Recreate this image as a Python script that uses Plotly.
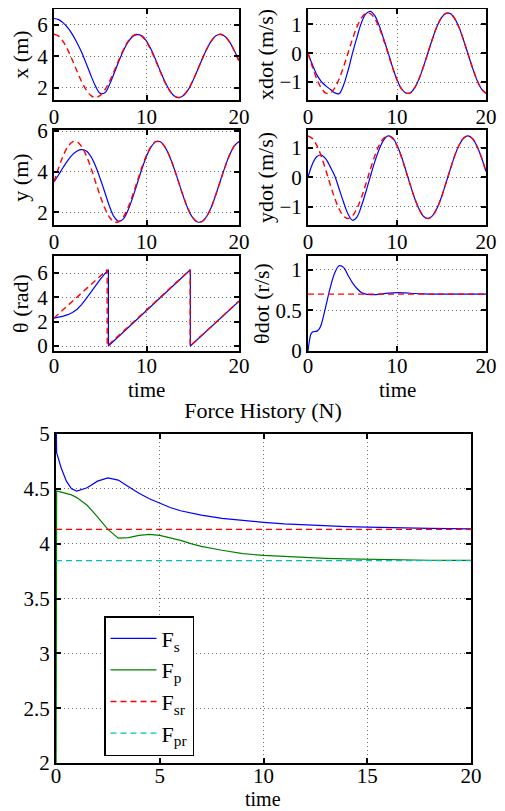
import plotly.graph_objects as go

# sample times for the state histories
t = [0.0, 0.5, 1.0, 1.5, 2.0, 2.5, 3.0, 3.5, 4.0, 4.5, 5.0, 5.5, 6.0, 6.5, 7.0, 7.5,
     8.0, 8.5, 9.0, 9.5, 10.0, 10.5, 11.0, 11.5, 12.0, 12.5, 13.0, 13.5, 14.0, 14.5,
     15.0, 15.5, 16.0, 16.5, 17.0, 17.5, 18.0, 18.5, 19.0, 19.5, 20.0]

x_act = [6.40, 6.33, 6.12, 5.80, 5.38, 4.85, 4.24, 3.52, 2.78, 2.10, 1.66, 1.70, 2.22,
         2.93, 3.68, 4.36, 4.90, 5.26, 5.38, 5.30, 4.97, 4.44, 3.78, 3.06, 2.39, 1.85,
         1.50, 1.39, 1.52, 1.88, 2.44, 3.11, 3.80, 4.45, 4.97, 5.30, 5.40, 5.26, 4.90,
         4.36, 3.75]
x_ref = [5.40, 5.28, 4.93, 4.40, 3.74, 3.04, 2.39, 1.86, 1.52, 1.40, 1.53, 1.88, 2.42,
         3.08, 3.77, 4.42, 4.95, 5.29, 5.40, 5.27, 4.91, 4.37, 3.71, 3.01, 2.36, 1.84,
         1.50, 1.40, 1.54, 1.90, 2.45, 3.12, 3.81, 4.45, 4.97, 5.30, 5.40, 5.25, 4.89,
         4.34, 3.67]

xdot_act = [0.00, -0.40, -0.75, -0.98, -1.13, -1.25, -1.37, -1.40, -1.10, -0.60, 0.00,
            0.55, 1.05, 1.36, 1.45, 1.30, 0.95, 0.50, 0.02, -0.48, -0.92, -1.23, -1.38,
            -1.37, -1.19, -0.87, -0.44, 0.04, 0.51, 0.93, 1.23, 1.38, 1.37, 1.19, 0.87,
            0.43, -0.05, -0.52, -0.94, -1.24, -1.39]
xdot_ref = [0.00, -0.48, -0.90, -1.21, -1.38, -1.38, -1.21, -0.89, -0.47, 0.01, 0.49,
            0.91, 1.22, 1.38, 1.37, 1.20, 0.88, 0.46, -0.02, -0.50, -0.92, -1.23, -1.38,
            -1.37, -1.19, -0.87, -0.44, 0.04, 0.51, 0.93, 1.23, 1.38, 1.37, 1.19, 0.87,
            0.43, -0.05, -0.52, -0.94, -1.24, -1.39]

y_act = [3.50, 3.85, 4.22, 4.56, 4.84, 5.02, 5.09, 5.02, 4.74, 4.27, 3.65, 2.98, 2.30,
         1.78, 1.56, 1.68, 2.10, 2.72, 3.42, 4.13, 4.76, 5.22, 5.47, 5.47, 5.21, 4.75,
         4.14, 3.45, 2.76, 2.16, 1.74, 1.53, 1.55, 1.80, 2.25, 2.88, 3.57, 4.25, 4.84,
         5.27, 5.48]
y_ref = [3.50, 4.19, 4.79, 5.23, 5.47, 5.47, 5.23, 4.78, 4.18, 3.48, 2.80, 2.20, 1.76,
         1.53, 1.54, 1.78, 2.23, 2.84, 3.53, 4.22, 4.81, 5.25, 5.48, 5.46, 5.21, 4.75,
         4.14, 3.45, 2.76, 2.16, 1.74, 1.53, 1.55, 1.80, 2.25, 2.88, 3.57, 4.25, 4.84,
         5.27, 5.48]

ydot_act = [0.00, 0.45, 0.70, 0.75, 0.62, 0.35, 0.05, -0.40, -0.85, -1.25, -1.46, -1.35,
            -0.98, -0.50, 0.02, 0.52, 0.95, 1.26, 1.40, 1.34, 1.08, 0.70, 0.22, -0.27,
            -0.73, -1.09, -1.33, -1.40, -1.30, -1.05, -0.67, -0.20, 0.28, 0.74, 1.10,
            1.33, 1.40, 1.30, 1.04, 0.66, 0.19]
ydot_ref = [1.40, 1.31, 1.07, 0.70, 0.24, -0.25, -0.71, -1.08, -1.32, -1.40, -1.31,
            -1.06, -0.69, -0.23, 0.26, 0.72, 1.09, 1.32, 1.40, 1.31, 1.06, 0.68, 0.21,
            -0.27, -0.73, -1.09, -1.33, -1.40, -1.30, -1.05, -0.67, -0.20, 0.28, 0.74,
            1.10, 1.33, 1.40, 1.30, 1.04, 0.66, 0.19]

theta_t = [0.0, 0.5, 1.0, 1.5, 2.0, 2.5, 3.0, 3.5, 4.0, 4.5, 5.0, 5.5, 5.88, 5.88, 7.0,
           8.0, 10.0, 12.0, 14.0, 14.74, 14.74, 20.0]
theta_act = [2.30, 2.37, 2.46, 2.58, 2.76, 3.03, 3.42, 3.93, 4.48, 5.00, 5.48, 5.95,
             6.28, 0.00, 0.79, 1.50, 2.92, 4.34, 5.76, 6.28, 0.00, 3.68]
theta_ref_t = [0.0, 5.75, 5.75, 14.72, 14.72, 20.0]
theta_ref = [2.30, 6.28, 0.00, 6.28, 0.00, 3.70]

thdot_t = [0.0, 0.15, 0.3, 0.5, 0.75, 1.0, 1.25, 1.5, 2.0, 2.5, 3.0, 3.5, 4.0, 4.5,
           5.0, 5.5, 6.0, 6.5, 7.0, 7.5, 8.0, 9.0, 10.0, 11.0, 12.0, 13.0, 14.0, 16.0,
           18.0, 20.0]
thdot_act = [0.00, 0.12, 0.20, 0.235, 0.24, 0.245, 0.27, 0.33, 0.55, 0.78, 0.96, 1.05,
             1.03, 0.93, 0.84, 0.77, 0.72, 0.70, 0.695, 0.695, 0.70, 0.712, 0.72,
             0.715, 0.708, 0.703, 0.70, 0.70, 0.70, 0.70]
ref_t = [0.0, 20.0]
thdot_ref = [0.70, 0.70]

# force history
force_t = [0.0, 0.03, 0.25, 0.5, 0.75, 1.0, 1.5, 2.0, 2.5, 3.0, 3.5, 4.0, 4.5, 5.0,
           5.5, 6.0, 6.5, 7.0, 8.0, 9.0, 10.0, 11.0, 12.0, 13.0, 14.0, 15.0, 16.0,
           17.0, 18.0, 19.0, 20.0]
F_s = [5.30, 4.83, 4.69, 4.57, 4.50, 4.48, 4.51, 4.57, 4.60, 4.58, 4.52, 4.46, 4.41,
       4.37, 4.33, 4.30, 4.28, 4.26, 4.23, 4.21, 4.195, 4.18, 4.17, 4.16, 4.155, 4.15,
       4.145, 4.142, 4.14, 4.137, 4.135]
F_p = [1.50, 4.48, 4.47, 4.46, 4.445, 4.42, 4.35, 4.245, 4.13, 4.05, 4.055, 4.075,
       4.085, 4.075, 4.055, 4.03, 4.00, 3.975, 3.94, 3.91, 3.893, 3.882, 3.873, 3.866,
       3.861, 3.857, 3.853, 3.851, 3.849, 3.848, 3.847]
F_sr = [4.13, 4.13]
F_pr = [3.845, 3.845]

FONT = "Liberation Serif"
BLUE = "#0000ff"
RED = "#ff0000"
GREEN = "#008000"
CYAN = "#00bfbf"
DASH = "6px,4px"
W, H = 505, 811
OFF = 8  # the page body adds an 8px margin, so shift everything back


def px_x(a, b):
    return [(a - OFF) / W, (b - OFF) / W]


def px_y(top, bottom):
    return [1 - (bottom - OFF) / H, min(1.0, 1 - (top - OFF) / H)]


def time_label(cx, cy, size):
    # x-axis "time" label, placed by pixel centre
    fig.add_annotation(text="time", xref="paper", yref="paper", showarrow=False,
                       x=(cx - OFF) / W, y=1 - (cy - OFF) / H,
                       xanchor="center", yanchor="middle",
                       font=dict(family=FONT, size=size, color="black"))


fig = go.Figure()

# right column ends a little early so its "20" labels stay inside the window
panels = [
    # (axis id, x-domain, y-domain, yrange, ytitle, ticks, title standoff, series)
    ("", px_x(54, 239), px_y(9, 100), [1.24, 7.00], "x (m)", [2, 4, 6], 7,
     [(t, x_act, t, x_ref)]),
    ("2", px_x(308, 486), px_y(9, 100), [-1.62, 1.53], "xdot (m/s)", [-1, 0, 1], 0,
     [(t, xdot_act, t, xdot_ref)]),
    ("3", px_x(54, 239), px_y(130, 225), [1.38, 6.05], "y (m)", [2, 4, 6], 7,
     [(t, y_act, t, y_ref)]),
    ("4", px_x(308, 486), px_y(130, 225), [-1.62, 1.60], "ydot (m/s)", [-1, 0, 1], 0,
     [(t, ydot_act, t, ydot_ref)]),
    ("5", px_x(54, 239), px_y(256, 351), [-0.41, 7.41], "θ (rad)", [0, 2, 4, 6], 7,
     [(theta_t, theta_act, theta_ref_t, theta_ref)]),
    ("6", px_x(308, 486), px_y(256, 351), [0, 1.17], "θdot (r/s)", [0, 0.5, 1], 0,
     [(thdot_t, thdot_act, ref_t, thdot_ref)]),
]

axis_common = dict(
    showline=True, linecolor="black", linewidth=2, mirror="ticks",
    ticks="inside", ticklen=5, tickcolor="black", tickwidth=1.5,
    showgrid=True, gridcolor="#707070", griddash="1px,3px", gridwidth=1,
    zeroline=False, ticklabeloverflow="allow",
    tickfont=dict(family=FONT, size=21, color="black"),
)

for aid, xd, yd, yr, ytitle, yticks, sto, series in panels:
    for ta, va, tr, vr in series:
        fig.add_trace(go.Scatter(x=ta, y=va, mode="lines", showlegend=False,
                                 line=dict(color=BLUE, width=1.2,
                                           shape="linear" if aid == "5" else "spline"),
                                 xaxis="x" + aid, yaxis="y" + aid))
        fig.add_trace(go.Scatter(x=tr, y=vr, mode="lines", showlegend=False,
                                 line=dict(color=RED, width=1.4, dash=DASH,
                                           shape="linear" if aid in ("5", "6") else "spline"),
                                 xaxis="x" + aid, yaxis="y" + aid))
    fig.update_layout({
        "xaxis" + aid: dict(axis_common, domain=xd, range=[0, 20], tickvals=[0, 10, 20],
                            anchor="y" + aid,
                            ticklabelstandoff=-5 if aid in ("5", "6") else -3),
        "yaxis" + aid: dict(axis_common, domain=yd, range=yr, tickvals=yticks,
                            anchor="x" + aid,
                            title=dict(text=ytitle, font=dict(family=FONT, size=22),
                                       standoff=sto)),
    })

time_label(146, 390, 21)
time_label(397, 390, 21)

# force panel
fig.add_trace(go.Scatter(x=force_t, y=F_s, mode="lines", name="F<sub>s</sub>",
                         line=dict(color=BLUE, width=1.2), xaxis="x7", yaxis="y7"))
fig.add_trace(go.Scatter(x=force_t, y=F_p, mode="lines", name="F<sub>p</sub>",
                         line=dict(color=GREEN, width=1.2), xaxis="x7", yaxis="y7"))
fig.add_trace(go.Scatter(x=ref_t, y=F_sr, mode="lines", name="F<sub>sr</sub>",
                         line=dict(color=RED, width=1.4, dash=DASH), xaxis="x7", yaxis="y7"))
fig.add_trace(go.Scatter(x=ref_t, y=F_pr, mode="lines", name="F<sub>pr</sub>",
                         line=dict(color=CYAN, width=1.4, dash=DASH), xaxis="x7", yaxis="y7"))

time_label(263, 799, 20)

fig.update_layout(
    xaxis7=dict(axis_common, domain=px_x(56, 471), range=[0, 20],
                tickvals=[0, 5, 10, 15, 20], anchor="y7", ticklabelstandoff=-7),
    yaxis7=dict(axis_common, domain=px_y(434, 763), range=[2, 5],
                tickvals=[2, 2.5, 3, 3.5, 4, 4.5, 5], anchor="x7"),
    title=dict(text="Force History (N)", x=(263 - OFF) / W, xanchor="center",
               y=1 - (410 - OFF) / H, yanchor="middle",
               font=dict(family=FONT, size=22, color="black")),
    legend=dict(x=(104 - OFF) / W, y=1 - (616 - OFF) / H, xanchor="left", yanchor="top",
                bordercolor="black", borderwidth=1.5, bgcolor="white", itemwidth=46,
                font=dict(family=FONT, size=22, color="black")),
    width=W, height=H,
    margin=dict(l=0, r=0, t=0, b=0, autoexpand=False),
    paper_bgcolor="white", plot_bgcolor="white",
    font=dict(family=FONT, color="black"),
)

fig.write_html("out.html")
